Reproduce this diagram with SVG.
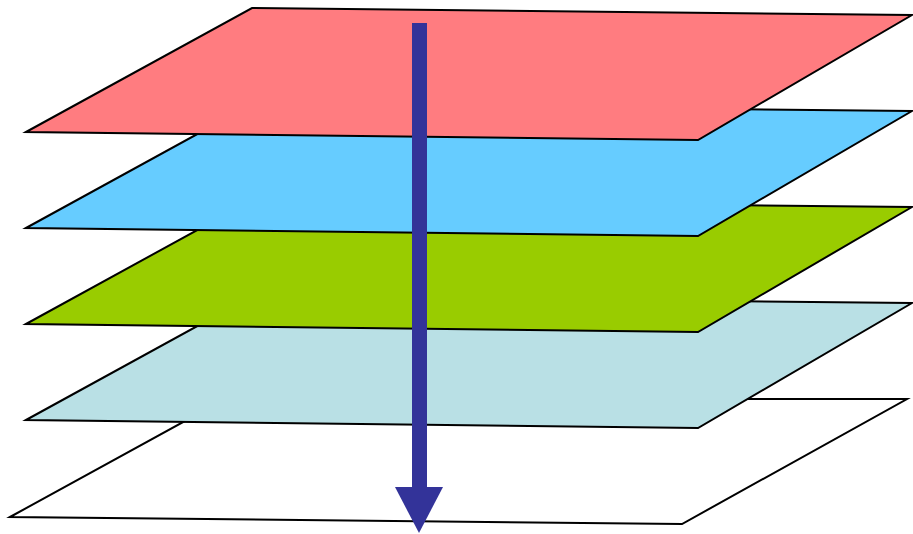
<svg xmlns="http://www.w3.org/2000/svg" width="913" height="534" viewBox="0 0 913 534">
<style>
.layer{stroke:#000;stroke-width:2;stroke-linejoin:miter}
</style>
<rect width="913" height="534" fill="#fff"/>
<g id="layer5"><polygon class="layer" fill="#fff" points="10,517 225,399 907,399 682,524"/></g>
<g id="layer4"><polygon class="layer" fill="#B9E0E5" points="26,420 252,296 912,303 698,428"/></g>
<g id="layer3"><polygon class="layer" fill="#99CC00" points="26,324 252,200 912,207 698,332"/></g>
<g id="layer2"><polygon class="layer" fill="#66CCFF" points="26,228 252,104 912,111 698,236"/></g>
<g id="layer1"><polygon class="layer" fill="#FF7C80" points="26,132 252,8 912,15 698,140"/></g>
<g id="connectors">
<rect x="412" y="23" width="15" height="466" fill="#333399"/>
<polygon fill="#333399" points="395,487 443,487 419,533"/>
</g>
</svg>
